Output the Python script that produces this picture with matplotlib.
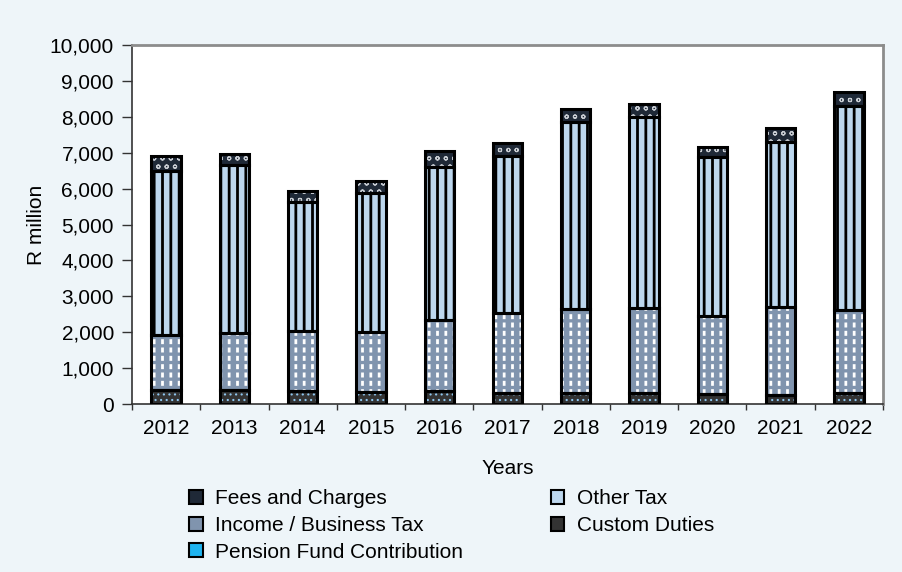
import matplotlib
matplotlib.use("Agg")
import matplotlib.pyplot as plt
from matplotlib.patches import Patch
from matplotlib.ticker import FuncFormatter, FixedLocator, NullFormatter
import numpy as np

plt.rcParams['font.family'] = ['Liberation Sans', 'DejaVu Sans']
plt.rcParams['hatch.linewidth'] = 2.0

years = ['2012', '2013', '2014', '2015', '2016', '2017', '2018', '2019', '2020', '2021', '2022']
custom_duties = [400, 400, 370, 335, 355, 300, 300, 315, 280, 250, 315]
pension_fund = [0, 0, 0, 0, 0, 0, 0, 0, 0, 0, 0]
income_business_tax = [1520, 1585, 1665, 1680, 1985, 2240, 2345, 2350, 2180, 2440, 2305]
other_tax = [4580, 4670, 3580, 3870, 4275, 4375, 5220, 5320, 4430, 4600, 5680]
fees_and_charges = [415, 300, 325, 335, 440, 365, 345, 365, 280, 390, 400]

# (label, values, face colour, pattern layers as (hatch, colour, hatch width))
series = [
    ('Custom Duties', custom_duties, '#333333', [('...', '#8ec6ef', 0.8)]),
    ('Pension Fund Contribution', pension_fund, '#1fb4f0', [('//', '#ffffff', 1.0)]),
    ('Income / Business Tax', income_business_tax, '#8094ae',
     [('||', '#ffffff', 2.0), ('--', '#8094ae', 2.4)]),
    ('Other Tax', other_tax, '#bdd7ee', [('||', '#000000', 2.0)]),
    ('Fees and Charges', fees_and_charges, '#1f2937', [('oo', '#c8ccd2', 0.8)]),
]


def hatched_bars(ax, x, vals, width, bottom, face, hatch, hcol, hlw, fill):
    bars = ax.bar(x, vals, width, bottom=bottom, color=face if fill else 'none',
                  edgecolor=hcol, linewidth=0, hatch=hatch, zorder=2)
    for p in bars.patches:
        if hasattr(p, 'set_hatch_linewidth'):
            p.set_hatch_linewidth(hlw)
    return bars


fig = plt.figure(figsize=(9.02, 5.72), dpi=100, facecolor='#eef5f9')
ax = fig.add_axes([0.1463, 0.2937, 0.8327, 0.6276])
ax.set_facecolor('white')

x = np.arange(len(years))
width = 0.43
bottom = np.zeros(len(years))
for label, vals, face, layers in series:
    vals = np.array(vals, dtype=float)
    for i, (hatch, hcol, hlw) in enumerate(layers):
        hatched_bars(ax, x, vals, width, bottom, face, hatch, hcol, hlw, i == 0)
    ax.bar(x, vals, width, bottom=bottom, fill=False, edgecolor='black',
           linewidth=2.2, zorder=3)
    bottom += vals

ax.set_xlim(-0.5, len(years) - 0.5)
ax.set_ylim(0, 10000)
ax.yaxis.set_major_locator(FixedLocator(np.arange(0, 10001, 1000)))
ax.yaxis.set_major_formatter(FuncFormatter(lambda v, p: f'{int(v):,}'))

# category labels sit between the boundary ticks
ax.xaxis.set_major_locator(FixedLocator(np.arange(-0.5, len(years), 1.0)))
ax.xaxis.set_major_formatter(NullFormatter())
ax.xaxis.set_minor_locator(FixedLocator(x))
ax.set_xticklabels(years, minor=True)
ax.tick_params(axis='x', which='minor', length=0, labelsize=15, pad=11)
ax.tick_params(axis='x', which='major', length=4, width=1, color='#333333', direction='out')
ax.tick_params(axis='y', length=7, width=1, color='#333333', labelsize=15, pad=6)

for side in ('left', 'bottom'):
    ax.spines[side].set_color('#333333')
    ax.spines[side].set_linewidth(1.2)
for side in ('top', 'right'):
    ax.spines[side].set_color('#8c8c8c')
    ax.spines[side].set_linewidth(2)

ax.set_ylabel('R million', fontsize=15)
ax.yaxis.set_label_coords(-0.114, 0.5)
ax.set_xlabel('Years', fontsize=15, labelpad=15)

legend_order = ['Fees and Charges', 'Income / Business Tax', 'Pension Fund Contribution',
                'Other Tax', 'Custom Duties']
lookup = {s[0]: s for s in series}
handles = [Patch(facecolor=lookup[n][2], edgecolor='black', linewidth=1.5) for n in legend_order]
fig.legend(handles, legend_order, loc='upper left', bbox_to_anchor=(0.198, 0.163),
           ncol=2, frameon=False, fontsize=15, handlelength=0.65, handleheight=0.65,
           handletextpad=0.6, labelspacing=0.37, columnspacing=4.2, borderpad=0)

fig.savefig('out.png', dpi=100, facecolor=fig.get_facecolor())
